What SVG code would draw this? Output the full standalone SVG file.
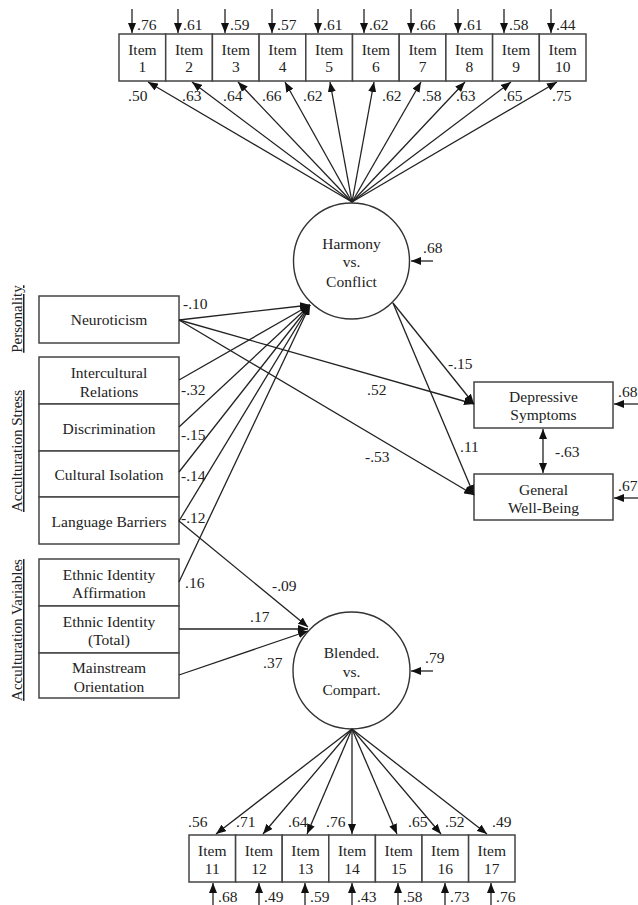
<svg xmlns="http://www.w3.org/2000/svg" width="638" height="905" viewBox="0 0 638 905">
<defs>
<marker id="ah" viewBox="0 0 10 8" markerWidth="10" markerHeight="8" refX="10" refY="4" markerUnits="userSpaceOnUse" orient="auto-start-reverse">
<path d="M0,0 L10,4 L0,8 z" fill="#111"/>
</marker>
<style>
text{font-family:"Liberation Serif","Times New Roman",serif;font-size:15.5px;fill:#222}
.c{text-anchor:middle}
.box{fill:#fff;stroke:#444;stroke-width:1.5}
.ell{fill:#fff;stroke:#333;stroke-width:1.4}
.ln{stroke:#222;stroke-width:1.3;fill:none;marker-end:url(#ah)}
.dbl{stroke:#222;stroke-width:1.3;fill:none;marker-end:url(#ah);marker-start:url(#ah)}
.grp{font-size:15px;text-decoration:underline}
</style>
</defs>
<rect width="638" height="905" fill="#fff"/>

<!-- group labels -->
<g id="grp-labels">
<text class="grp c" transform="translate(22,319) rotate(-90)">Personality</text>
<text class="grp c" transform="translate(22,451) rotate(-90)">Acculturation Stress</text>
<text class="grp c" transform="translate(22,630) rotate(-90)">Acculturation Variables</text>
</g>

<!-- top items -->
<g id="item1"><rect class="box" x="119" y="34" width="46.7" height="47"/><text class="c" x="142.4" y="55">Item</text><text class="c" x="142.4" y="72">1</text></g>
<g id="item2"><rect class="box" x="165.7" y="34" width="46.7" height="47"/><text class="c" x="189.1" y="55">Item</text><text class="c" x="189.1" y="72">2</text></g>
<g id="item3"><rect class="box" x="212.4" y="34" width="46.7" height="47"/><text class="c" x="235.8" y="55">Item</text><text class="c" x="235.8" y="72">3</text></g>
<g id="item4"><rect class="box" x="259.1" y="34" width="46.7" height="47"/><text class="c" x="282.5" y="55">Item</text><text class="c" x="282.5" y="72">4</text></g>
<g id="item5"><rect class="box" x="305.8" y="34" width="46.7" height="47"/><text class="c" x="329.2" y="55">Item</text><text class="c" x="329.2" y="72">5</text></g>
<g id="item6"><rect class="box" x="352.5" y="34" width="46.7" height="47"/><text class="c" x="375.9" y="55">Item</text><text class="c" x="375.9" y="72">6</text></g>
<g id="item7"><rect class="box" x="399.2" y="34" width="46.7" height="47"/><text class="c" x="422.6" y="55">Item</text><text class="c" x="422.6" y="72">7</text></g>
<g id="item8"><rect class="box" x="445.9" y="34" width="46.7" height="47"/><text class="c" x="469.3" y="55">Item</text><text class="c" x="469.3" y="72">8</text></g>
<g id="item9"><rect class="box" x="492.6" y="34" width="46.7" height="47"/><text class="c" x="516" y="55">Item</text><text class="c" x="516" y="72">9</text></g>
<g id="item10"><rect class="box" x="539.3" y="34" width="46.7" height="47"/><text class="c" x="562.7" y="55">Item</text><text class="c" x="562.7" y="72">10</text></g>

<!-- latent: Harmony -->
<g id="harmony">
<circle class="ell" cx="351.5" cy="261" r="58"/>
<text class="c" x="351.5" y="249">Harmony</text>
<text class="c" x="351.5" y="267">vs.</text>
<text class="c" x="351.5" y="287">Conflict</text>
</g>

<!-- left predictors -->
<g id="neuroticism"><rect class="box" x="39" y="296" width="140" height="47"/><text class="c" x="109" y="325">Neuroticism</text></g>
<g id="intercultural"><rect class="box" x="39" y="357" width="140" height="47"/><text class="c" x="109" y="378">Intercultural</text><text class="c" x="109" y="397">Relations</text></g>
<g id="discrimination"><rect class="box" x="39" y="404" width="140" height="47"/><text class="c" x="109" y="434">Discrimination</text></g>
<g id="isolation"><rect class="box" x="39" y="451" width="140" height="46"/><text class="c" x="109" y="480">Cultural Isolation</text></g>
<g id="language"><rect class="box" x="39" y="497" width="140" height="47"/><text class="c" x="109" y="527">Language Barriers</text></g>
<g id="eia"><rect class="box" x="39" y="559" width="140" height="47"/><text class="c" x="109" y="580">Ethnic Identity</text><text class="c" x="109" y="598">Affirmation</text></g>
<g id="eit"><rect class="box" x="39" y="606" width="140" height="47"/><text class="c" x="109" y="627">Ethnic Identity</text><text class="c" x="109" y="645">(Total)</text></g>
<g id="mainstream"><rect class="box" x="39" y="653" width="140" height="45"/><text class="c" x="109" y="673">Mainstream</text><text class="c" x="109" y="692">Orientation</text></g>

<!-- outcomes -->
<g id="depressive"><rect class="box" x="474" y="382" width="139" height="46"/><text class="c" x="543.5" y="402">Depressive</text><text class="c" x="543.5" y="420">Symptoms</text></g>
<g id="wellbeing"><rect class="box" x="474" y="474" width="139" height="46"/><text class="c" x="543.5" y="495">General</text><text class="c" x="543.5" y="513">Well-Being</text></g>

<!-- latent: Blended -->
<g id="blended">
<circle class="ell" cx="351.5" cy="670.5" r="58.5"/>
<text class="c" x="351.5" y="658">Blended.</text>
<text class="c" x="351.5" y="677">vs.</text>
<text class="c" x="351.5" y="695">Compart.</text>
</g>

<!-- bottom items -->
<g id="item11"><rect class="box" x="189" y="835" width="46.6" height="47"/><text class="c" x="212.3" y="856">Item</text><text class="c" x="212.3" y="874">11</text></g>
<g id="item12"><rect class="box" x="235.6" y="835" width="46.6" height="47"/><text class="c" x="258.9" y="856">Item</text><text class="c" x="258.9" y="874">12</text></g>
<g id="item13"><rect class="box" x="282.2" y="835" width="46.6" height="47"/><text class="c" x="305.5" y="856">Item</text><text class="c" x="305.5" y="874">13</text></g>
<g id="item14"><rect class="box" x="328.8" y="835" width="46.6" height="47"/><text class="c" x="352.1" y="856">Item</text><text class="c" x="352.1" y="874">14</text></g>
<g id="item15"><rect class="box" x="375.4" y="835" width="46.6" height="47"/><text class="c" x="398.7" y="856">Item</text><text class="c" x="398.7" y="874">15</text></g>
<g id="item16"><rect class="box" x="422" y="835" width="46.6" height="47"/><text class="c" x="445.3" y="856">Item</text><text class="c" x="445.3" y="874">16</text></g>
<g id="item17"><rect class="box" x="468.6" y="835" width="46.4" height="47"/><text class="c" x="491.8" y="856">Item</text><text class="c" x="491.8" y="874">17</text></g>

<!-- connectors -->
<g id="connectors">
<!-- top residuals -->
<line class="ln" x1="132" y1="9" x2="132" y2="33"/>
<line class="ln" x1="178" y1="9" x2="178" y2="33"/>
<line class="ln" x1="225" y1="9" x2="225" y2="33"/>
<line class="ln" x1="272" y1="9" x2="272" y2="33"/>
<line class="ln" x1="318" y1="9" x2="318" y2="33"/>
<line class="ln" x1="364" y1="9" x2="364" y2="33"/>
<line class="ln" x1="411" y1="9" x2="411" y2="33"/>
<line class="ln" x1="458" y1="9" x2="458" y2="33"/>
<line class="ln" x1="504" y1="9" x2="504" y2="33"/>
<line class="ln" x1="551" y1="9" x2="551" y2="33"/>
<!-- top loadings -->
<line class="ln" x1="352" y1="202" x2="148" y2="82"/>
<line class="ln" x1="352" y1="202" x2="192" y2="82"/>
<line class="ln" x1="352" y1="202" x2="238" y2="82"/>
<line class="ln" x1="352" y1="202" x2="285" y2="82"/>
<line class="ln" x1="352" y1="202" x2="330" y2="82"/>
<line class="ln" x1="352" y1="202" x2="374" y2="82"/>
<line class="ln" x1="352" y1="202" x2="421" y2="82"/>
<line class="ln" x1="352" y1="202" x2="465" y2="82"/>
<line class="ln" x1="352" y1="202" x2="511" y2="82"/>
<line class="ln" x1="352" y1="202" x2="557" y2="82"/>
<!-- harmony residual -->
<line class="ln" x1="433" y1="261" x2="411" y2="261"/>
<!-- predictors to Harmony -->
<line class="ln" x1="179" y1="320" x2="310" y2="305"/>
<line class="ln" x1="179" y1="380" x2="310" y2="305"/>
<line class="ln" x1="179" y1="427" x2="310" y2="305"/>
<line class="ln" x1="179" y1="472" x2="310" y2="305"/>
<line class="ln" x1="179" y1="521" x2="310" y2="305"/>
<line class="ln" x1="179" y1="582" x2="310" y2="305"/>
<!-- Neuroticism to outcomes -->
<line class="ln" x1="179" y1="320" x2="474" y2="404"/>
<line class="ln" x1="179" y1="320" x2="474" y2="495"/>
<!-- Harmony to outcomes -->
<line class="ln" x1="393" y1="303" x2="474" y2="404"/>
<line class="ln" x1="393" y1="303" x2="474" y2="495"/>
<!-- outcome residuals -->
<line class="ln" x1="638" y1="404" x2="614" y2="404"/>
<line class="ln" x1="638" y1="498" x2="614" y2="498"/>
<!-- correlation -->
<line class="dbl" x1="543" y1="429" x2="543" y2="473"/>
<!-- to Blended -->
<line class="ln" x1="179" y1="521" x2="308" y2="627"/>
<line class="ln" x1="179" y1="629" x2="308" y2="629"/>
<line class="ln" x1="179" y1="675" x2="308" y2="631"/>
<!-- blended residual -->
<line class="ln" x1="433" y1="671" x2="411" y2="671"/>
<!-- bottom loadings -->
<line class="ln" x1="352" y1="729" x2="216" y2="834"/>
<line class="ln" x1="352" y1="729" x2="263" y2="834"/>
<line class="ln" x1="352" y1="729" x2="307" y2="834"/>
<line class="ln" x1="352" y1="729" x2="352" y2="834"/>
<line class="ln" x1="352" y1="729" x2="397" y2="834"/>
<line class="ln" x1="352" y1="729" x2="441" y2="834"/>
<line class="ln" x1="352" y1="729" x2="487" y2="834"/>
<!-- bottom residuals -->
<line class="ln" x1="213" y1="905" x2="213" y2="883"/>
<line class="ln" x1="259" y1="905" x2="259" y2="883"/>
<line class="ln" x1="305" y1="905" x2="305" y2="883"/>
<line class="ln" x1="352" y1="905" x2="352" y2="883"/>
<line class="ln" x1="398" y1="905" x2="398" y2="883"/>
<line class="ln" x1="445" y1="905" x2="445" y2="883"/>
<line class="ln" x1="491" y1="905" x2="491" y2="883"/>
</g>

<!-- coefficient labels -->
<g id="labels">
<text x="137" y="30">.76</text><text x="183" y="30">.61</text><text x="230" y="30">.59</text><text x="277" y="30">.57</text><text x="323" y="30">.61</text>
<text x="369" y="30">.62</text><text x="416" y="30">.66</text><text x="463" y="30">.61</text><text x="509" y="30">.58</text><text x="556" y="30">.44</text>
<text x="128" y="101">.50</text><text x="182" y="101">.63</text><text x="223" y="101">.64</text><text x="262" y="101">.66</text><text x="303" y="101">.62</text>
<text x="382" y="101">.62</text><text x="422" y="101">.58</text><text x="456" y="101">.63</text><text x="503" y="101">.65</text><text x="552" y="101">.75</text>
<text x="423" y="253">.68</text>
<text x="183" y="309">-.10</text>
<text x="181" y="395">-.32</text>
<text x="181" y="440">-.15</text>
<text x="181" y="481">-.14</text>
<text x="181" y="523">-.12</text>
<text x="185" y="588">.16</text>
<text x="272" y="591">-.09</text>
<text x="250" y="622">.17</text>
<text x="263" y="668">.37</text>
<text x="367" y="395">.52</text>
<text x="365" y="462">-.53</text>
<text x="448" y="369">-.15</text>
<text x="460" y="452">.11</text>
<text x="555" y="457">-.63</text>
<text x="618" y="397">.68</text>
<text x="618" y="491">.67</text>
<text x="425" y="663">.79</text>
<text x="188" y="827">.56</text><text x="236" y="827">.71</text><text x="288" y="827">.64</text><text x="326" y="827">.76</text><text x="408" y="827">.65</text><text x="445" y="827">.52</text><text x="492" y="827">.49</text>
<text x="218" y="902">.68</text><text x="264" y="902">.49</text><text x="310" y="902">.59</text><text x="357" y="902">.43</text><text x="403" y="902">.58</text><text x="450" y="902">.73</text><text x="496" y="902">.76</text>
</g>
</svg>
